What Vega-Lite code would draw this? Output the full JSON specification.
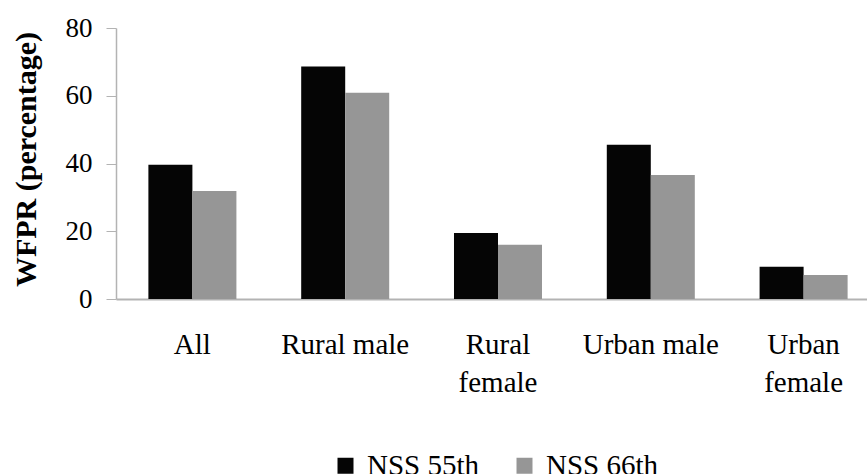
{
  "$schema": "https://vega.github.io/schema/vega-lite/v6.json",
  "autosize": {"type": "none"},
  "padding": {"left": 116, "top": 28, "right": 0, "bottom": 175},
  "width": 751,
  "height": 271,
  "background": "white",
  "config": {"view": {"stroke": null}, "font": "Liberation Serif, serif"},
  "data": {
    "values": [
      {"group": "All", "survey": "NSS 55th", "value": 39.6},
      {"group": "All", "survey": "NSS 66th", "value": 31.9},
      {"group": "Rural male", "survey": "NSS 55th", "value": 68.6},
      {"group": "Rural male", "survey": "NSS 66th", "value": 60.9},
      {"group": "Rural female", "survey": "NSS 55th", "value": 19.5},
      {"group": "Rural female", "survey": "NSS 66th", "value": 16.0},
      {"group": "Urban male", "survey": "NSS 55th", "value": 45.5},
      {"group": "Urban male", "survey": "NSS 66th", "value": 36.6},
      {"group": "Urban female", "survey": "NSS 55th", "value": 9.5},
      {"group": "Urban female", "survey": "NSS 66th", "value": 7.1}
    ]
  },
  "mark": {"type": "bar"},
  "encoding": {
    "x": {
      "field": "group",
      "type": "nominal",
      "sort": ["All", "Rural male", "Rural female", "Urban male", "Urban female"],
      "scale": {"range": [0, 764], "paddingInner": 0.424, "paddingOuter": 0.212},
      "axis": {
        "title": null,
        "labelAngle": 0,
        "ticks": false,
        "domainColor": "#b3b3b3",
        "domainWidth": 2,
        "labelFont": "Liberation Serif, serif",
        "labelFontSize": 29,
        "labelColor": "black",
        "labelPadding": 54,
        "labelLineHeight": 38,
        "labelBaseline": "alphabetic",
        "labelExpr": "datum.label == 'Rural female' ? ['Rural', 'female'] : datum.label == 'Urban female' ? ['Urban', 'female'] : datum.label"
      }
    },
    "xOffset": {"field": "survey", "type": "nominal", "scale": {"paddingInner": 0, "paddingOuter": 0}},
    "y": {
      "field": "value",
      "type": "quantitative",
      "scale": {"domain": [0, 80], "nice": false},
      "axis": {
        "values": [0, 20, 40, 60, 80],
        "grid": false,
        "title": "WFPR (percentage)",
        "titleFont": "Liberation Serif, serif",
        "titleFontSize": 30,
        "titleFontWeight": "bold",
        "titleColor": "black",
        "titlePadding": 24,
        "titleY": 131,
        "domainColor": "#b3b3b3",
        "domainWidth": 1.5,
        "tickColor": "#b3b3b3",
        "tickSize": 10,
        "labelFont": "Liberation Serif, serif",
        "labelFontSize": 27,
        "labelColor": "black",
        "labelPadding": 14
      }
    },
    "color": {
      "field": "survey",
      "type": "nominal",
      "scale": {"domain": ["NSS 55th", "NSS 66th"], "range": ["#050505", "#969696"]},
      "legend": {
        "title": null,
        "orient": "none",
        "direction": "horizontal",
        "legendX": 215,
        "legendY": 423,
        "symbolType": "square",
        "symbolSize": 256,
        "symbolStrokeWidth": 0,
        "labelFont": "Liberation Serif, serif",
        "labelFontSize": 29,
        "labelColor": "black",
        "labelOffset": 7,
        "columnPadding": 30
      }
    }
  }
}
